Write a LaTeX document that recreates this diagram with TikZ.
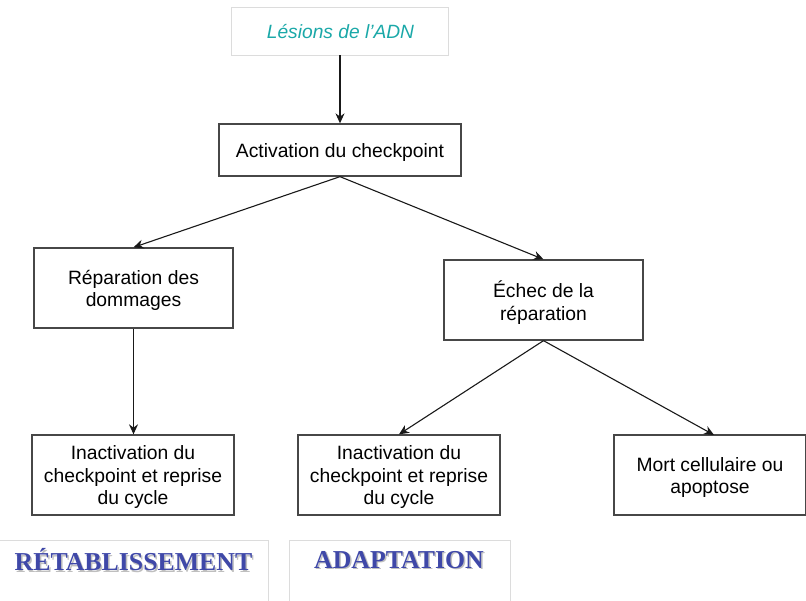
\documentclass[tikz,border=0pt]{standalone}
\usepackage{fontspec}
\setmainfont{Liberation Sans}
\newfontfamily\serifb{Liberation Serif}
\usetikzlibrary{arrows.meta}
\definecolor{teal1}{HTML}{1AA8A8}
\definecolor{blue1}{HTML}{3F48A8}
\definecolor{gray1}{HTML}{DCDCDC}
\tikzset{
  box/.style={draw=black!72, line width=1.3pt, rectangle, inner sep=0pt,
    label={[align=center, yshift=-2.5pt, font=\fontsize{19.3}{22.5}\selectfont]center:#1}},
  lbox/.style={draw=gray1, line width=0.6pt, rectangle, inner sep=0pt},
  arr/.style={-{Stealth[length=10pt,width=9pt]}, line width=1.1pt, black!90},
  big/.style={font=\serifb\bfseries\fontsize{25.8}{30}\selectfont, text=blue1},
  shad/.style={font=\serifb\bfseries\fontsize{25.8}{30}\selectfont, text=black!25}
}
\begin{document}
\begin{tikzpicture}[x=1pt,y=-1pt]
\useasboundingbox (0,0) rectangle (806,601);
\begin{scope}
\clip (0,0) rectangle (806,601);
\node[lbox, minimum width=217pt, minimum height=48pt] (les) at (339.5,31) {};
\node[text=teal1, font=\itshape\fontsize{19.2}{22}\selectfont] (lest) at (340.5,31.5) {Lésions de l’ADN};
\node[box={Activation du checkpoint}, minimum width=242pt, minimum height=52pt] (act) at (340,150) {};
\node[box={Réparation des\\dommages}, minimum width=199pt, minimum height=80pt] (rep) at (133.5,288) {};
\node[box={Échec de la\\réparation}, minimum width=199pt, minimum height=80pt] (ech) at (543.5,300) {};
\node[box={Inactivation du\\checkpoint et reprise\\du cycle}, minimum width=202pt, minimum height=80pt] (in1) at (133,475) {};
\node[box={Inactivation du\\checkpoint et reprise\\du cycle}, minimum width=202pt, minimum height=80pt] (in2) at (399,475) {};
\node[box={Mort cellulaire ou\\apoptose}, minimum width=192pt, minimum height=80pt] (mort) at (710,475) {};
\coordinate (mtop) at (714,435);
\draw[lbox] (268,601) -- (268,540) -- (0,540);
\draw[lbox] (289,601) -- (289,540) -- (510,540) -- (510,601);
\node[shad] (s1) at (135,561.5) {RÉTABLISSEMENT};
\node[big] (t1) at (133.5,560) {RÉTABLISSEMENT};
\node[shad] (s2) at (400.5,561.5) {ADAPTATION};
\node[big] (t2) at (399,560) {ADAPTATION};
\draw[arr] (les.south -| act.north) -- (act.north);
\draw[arr] (act.south) -- (rep.north);
\draw[arr] (act.south) -- (ech.north);
\draw[arr] (rep.south) -- (rep.south |- in1.north);
\draw[arr] (ech.south) -- (in2.north);
\draw[arr] (ech.south) -- (mtop);
\end{scope}
\end{tikzpicture}
\end{document}
